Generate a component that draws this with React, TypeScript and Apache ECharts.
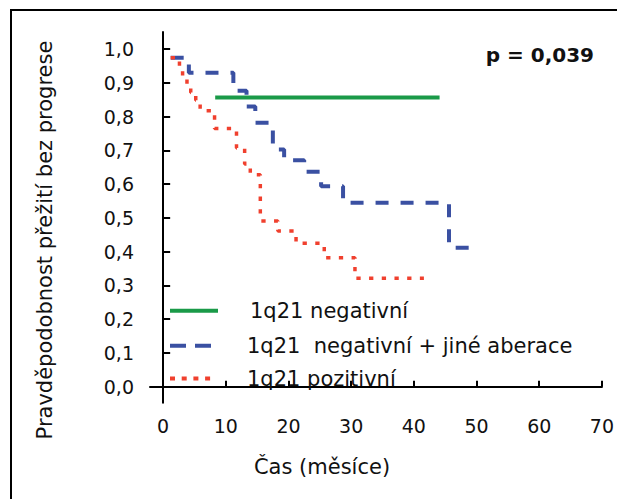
import React, { useEffect, useRef } from "react";
import * as echarts from "echarts";

const xTicks = [0, 10, 20, 30, 40, 50, 60, 70];
const yTicks = [0, 0.1, 0.2, 0.3, 0.4, 0.5, 0.6, 0.7, 0.8, 0.9, 1.0];

const greenTimes = [8.3, 44.1];
const greenSurv = [0.857, 0.857];

const blueTimes = [1.2, 4.1, 11.2, 13.3, 14.7, 17.5, 19.3, 22.5, 25.2, 28.7, 45.6, 48.8];
const blueSurv = [0.975, 0.93, 0.877, 0.83, 0.782, 0.703, 0.671, 0.637, 0.594, 0.545, 0.412, 0.412];

const redTimes = [1.2, 2.6, 3.1, 3.8, 4.4, 5.2, 5.9, 8.2, 11.7, 13.0, 13.9, 15.5, 18.3, 21.2, 25.7, 30.6, 41.6];
const redSurv = [0.975, 0.945, 0.921, 0.896, 0.872, 0.849, 0.818, 0.765, 0.707, 0.66, 0.628, 0.491, 0.461, 0.425, 0.382, 0.321, 0.321];

const legendNames = ["1q21 negativní", "1q21  negativní + jiné aberace", "1q21 pozitivní"];
const pText = "p = 0,039";
const xTitle = "Čas (měsíce)";
const yTitle = "Pravděpodobnost přežití bez progrese";

const GREEN = "#1a9a48";
const BLUE = "#3a50a2";
const RED = "#f0402e";
const FONT = "DejaVu Sans";

const zip = (t: number[], s: number[]) => t.map((v, i) => [v, s[i]]);

export default function App() {
  const ref = useRef<HTMLDivElement>(null);
  useEffect(() => {
    document.body.style.margin = "0";
    const chart = echarts.init(ref.current!, null, { renderer: "svg" });
    const legendY = [310.7, 345.7, 378.5];
    const legendColors = [GREEN, BLUE, RED];
    const legendDash: any[] = [null, [16, 9], [5, 6.7]];
    const legendX2 = [218, 212, 214];
    const graphic: any[] = [
      {
        type: "rect",
        id: "frame",
        shape: { x: 11, y: 10, width: 700, height: 600 },
        style: { fill: "none", stroke: "#000", lineWidth: 2 },
        silent: true,
      },
      {
        type: "text",
        id: "ptext",
        x: 594,
        y: 55,
        style: {
          text: pText,
          font: `bold 20px "${FONT}"`,
          fill: "#111",
          align: "right",
          verticalAlign: "middle",
        },
      },
      {
        type: "text",
        id: "xtitle",
        x: 322,
        y: 467,
        style: {
          text: xTitle,
          font: `21px "${FONT}"`,
          fill: "#111",
          align: "center",
          verticalAlign: "middle",
        },
      },
      {
        type: "text",
        id: "ytitle",
        x: 45,
        y: 240,
        rotation: Math.PI / 2,
        style: {
          text: yTitle,
          font: `21px "${FONT}"`,
          fill: "#111",
          align: "center",
          verticalAlign: "middle",
        },
      },
    ];
    legendNames.forEach((name, i) => {
      graphic.push({
        type: "text",
        id: "legtext" + i,
        x: i === 0 ? 250 : 247,
        y: legendY[i],
        z: 10,
        style: {
          text: name,
          font: `21px "${FONT}"`,
          fill: "#111",
          align: "left",
          verticalAlign: "middle",
        },
      });
    });
    legendNames.forEach((name, i) => {
      graphic.push({
        type: "polyline",
        id: "legline" + i,
        z: 5,
        shape: { points: [[170, legendY[i]], [legendX2[i], legendY[i]]] },
        style: {
          stroke: legendColors[i],
          lineWidth: 4,
          lineDash: legendDash[i] || null,
          fill: null,
        },
      });
    });

    chart.setOption({
      animation: false,
      backgroundColor: "#fff",
      grid: { left: 150, right: 10, top: 32, bottom: 96.3, containLabel: false },
      xAxis: {
        type: "value",
        min: -2.1,
        max: 70,
        splitLine: { show: false },
        axisLine: { show: true, lineStyle: { color: "#000", width: 2 } },
        axisTick: {
          show: true,
          inside: true,
          length: 6,
          lineStyle: { color: "#000", width: 2 },
          customValues: xTicks,
        },
        axisLabel: {
          customValues: xTicks,
          margin: 14,
          color: "#111",
          fontSize: 19,
          fontFamily: FONT,
          showMinLabel: true,
          showMaxLabel: true,
        },
      },
      yAxis: {
        type: "value",
        min: -0.0474,
        max: 1.051,
        splitLine: { show: false },
        axisLine: { show: true, lineStyle: { color: "#000", width: 2 } },
        axisTick: {
          show: true,
          inside: true,
          length: 7,
          lineStyle: { color: "#000", width: 2 },
          customValues: yTicks,
        },
        axisLabel: {
          customValues: yTicks,
          margin: 16,
          color: "#111",
          fontSize: 19,
          fontFamily: FONT,
          formatter: (v: number) => v.toFixed(1).replace(".", ","),
        },
      },
      graphic,
      series: [
        {
          name: legendNames[0],
          type: "line",
          data: zip(greenTimes, greenSurv),
          symbol: "none",
          lineStyle: { color: GREEN, width: 4 },
        },
        {
          name: legendNames[1],
          type: "line",
          step: "end",
          data: zip(blueTimes, blueSurv),
          symbol: "none",
          lineStyle: { color: BLUE, width: 4, type: [13, 12], cap: "butt" },
        },
        {
          name: legendNames[2],
          type: "line",
          step: "end",
          data: zip(redTimes, redSurv),
          symbol: "none",
          lineStyle: { color: RED, width: 3.5, type: [4.3, 8.4], cap: "butt" },
        },
      ],
    });
    return () => chart.dispose();
  }, []);
  return <div ref={ref} style={{ width: 617, height: 499 }} />;
}
